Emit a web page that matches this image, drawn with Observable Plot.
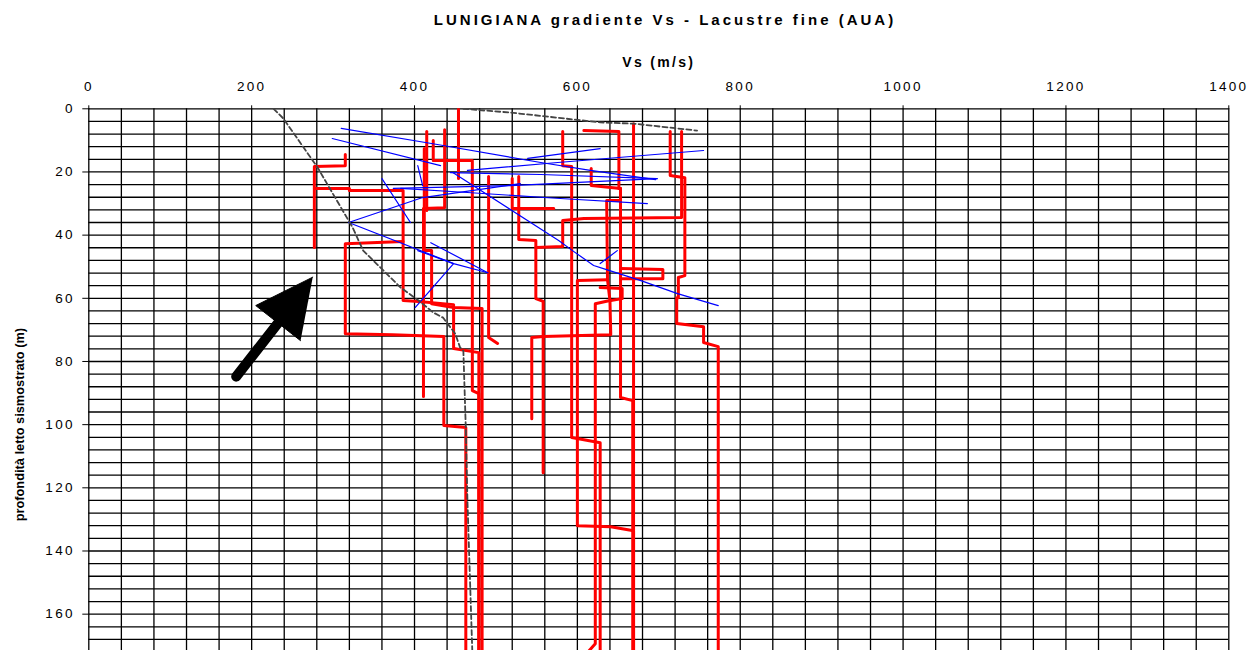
<!DOCTYPE html>
<html>
<head>
<meta charset="utf-8">
<script src="https://cdn.jsdelivr.net/npm/d3@7"></script>
<script src="https://cdn.jsdelivr.net/npm/@observablehq/plot@0.6"></script>
<style>
html, body { margin: 0; padding: 0; overflow: hidden; background: #fff; }
#title { height: 40px; width: 1251px; box-sizing: border-box; padding-left: 79px; text-align: center;
  font: bold 15px "Liberation Sans", Arial, sans-serif; line-height: 40px; letter-spacing: 3px; color: #000; white-space: nowrap; }
#chart svg g[aria-label^="x-axis"] text, #chart svg g[aria-label^="y-axis"] text { letter-spacing: 2.3px; }
</style>
</head>
<body>
<div id="title">LUNIGIANA gradiente Vs - Lacustre fine (AUA)</div>
<div id="chart"></div>
<script>
// ---- tick labels ----
const xTicks = [0, 200, 400, 600, 800, 1000, 1200, 1400];
const yTicks = [0, 20, 40, 60, 80, 100, 120, 140, 160];
const xLabel = "Vs (m/s)";
const yLabel = "profondità letto sismostrato (m)";

// ---- red Vs profiles: [Vs (m/s), depth (m)] ----
const red01 = [[315,14.5],[315,18.0],[277,18.3],[277,43.9]];
const red02 = [[277,25.2],[320,25.2],[320,25.9],[386,25.9],[386,60.7],[405,61.0],[448,62.0],[448,75.9],[479,77.2],[479,172]];
const red03 = [[423,10.0],[423,16.4],[471,16.4],[471,89.2],[479,90.2],[479,172]];
const red04 = [[437,6.6],[437,31.3],[411,31.6],[411,91.1]];
const red05 = [[412,12.6],[412,44.9],[421,44.9],[421,61.7],[448,62.9],[483,63.2],[483,172]];
const red06 = [[415,7.2],[415,32.2]];
const red07 = [[454,0],[454,22.1]];
const red08 = [[520,22.1],[520,31.6],[571,31.6]];
const red09 = [[528,21.4],[528,41.4],[549,41.7],[549,60.1],[558,61.0],[558,115.2]];
const red10 = [[728,7.2],[728,34.4],[608,34.7],[582,35.4],[582,43.6],[549,43.9]];
const red11 = [[640,60.7],[641,71.5],[558,72.1],[544,72.4],[544,98.1]];
const red12 = [[653,25.2],[653,29.0],[636,29.0],[637,54.1],[640,60.7],[622,61.7],[622,169.4],[613,172]];
const red13 = [[637,54.1],[600,54.4],[600,132.0],[641,132.3],[662,133.3],[669,133.6],[669,172]];
const red14 = [[582,7.2],[582,18.0],[593,18.3],[593,104.1],[628,105.7],[628,172]];
const red15 = [[608,6.9],[651,7.2],[651,25.2],[653,25.2],[653,91.4],[668,92.4],[668,172]];
const red16 = [[653,50.6],[705,50.9],[705,53.8],[653,53.8]];
const red17 = [[617,18.9],[617,24.3],[653,25.2]];
const red18 = [[628,56.6],[655,56.9],[655,60.1],[641,60.7]];
const red19 = [[669,4.7],[669,172]];
const red20 = [[714,7.2],[714,21.1],[732,21.8],[732,52.8],[724,53.4],[724,59.8],[722,59.8],[722,68.0],[755,69.0],[755,74.0],[773,75.3],[773,172]];
const red21 = [[386,42.0],[315,42.7],[315,71.2],[373,71.5],[436,72.1],[436,100.3],[463,100.9],[463,172]];
const red22 = [[491,21.4],[491,72.4],[502,74.3]];

// ---- blue gradient lines ----
const blue01 = [[310,6.2],[428,11.3],[555,17.0],[616,19.5],[696,22.4]];
const blue02 = [[299,9.4],[432,18.0]];
const blue03 = [[447,20.2],[577,41.7],[594,44.9],[620,49.6],[632,50.6],[678,54.4],[723,58.5],[773,62.3]];
const blue04 = [[539,15.7],[628,12.6]];
const blue05 = [[465,19.5],[576,17.0],[755,13.2]];
const blue06 = [[444,20.2],[555,20.8],[698,22.1]];
const blue07 = [[374,25.2],[518,24.3],[698,22.1]];
const blue08 = [[383,25.2],[465,26.5],[579,28.4],[686,30.0]];
const blue09 = [[360,22.1],[395,36.0]];
const blue10 = [[319,36.0],[410,28.1],[530,23.7]];
const blue11 = [[319,36.0],[448,49.0],[490,51.9]];
const blue12 = [[420,42.4],[490,51.9]];
const blue13 = [[404,44.9],[448,49.0],[401,62.9]];
const blue14 = [[628,49.0],[649,44.9]];
const blue15 = [[404,18.0],[410,24.3]];

// ---- grey dashed gradient curves ----
const grey01 = [[227,0],[239,3.1],[281,18.6],[324,37.6],[337,44.9],[383,56.6],[405,60.7],[423,64.5],[435,66.1],[450,71.2],[456,75.6],[460,76.6],[463,101.3],[465,124.1],[471,172]];
const grey02 = [[460,0],[518,1.2],[628,4.3],[669,4.7],[747,6.9]];

// ---- black arrow annotation ----
const arrowShaft = [[181,84.8],[240,65.3]];
const arrowHead = [[275,53.3],[205,62.3],[260,73.4]];

// ---- build tables ----
const toRows = (arrs, prefix) => arrs.flatMap((a, i) => a.map(([v, d]) => ({v, d, id: prefix + i})));
const redData = toRows([red01,red02,red03,red04,red05,red06,red07,red08,red09,red10,red11,red12,red13,red14,red15,red16,red17,red18,red19,red20,red21,red22], "r");
const blueData = toRows([blue01,blue02,blue03,blue04,blue05,blue06,blue07,blue08,blue09,blue10,blue11,blue12,blue13,blue14,blue15], "b");
const greyData = toRows([grey01, grey02], "g");
const shaftData = toRows([arrowShaft], "s");
const headData = toRows([arrowHead], "h");
const xGrid = d3.range(0, 1401, 40);
const yGrid = d3.range(0, 201, 4);

const chart = Plot.plot({
  width: 1251,
  height: 720,
  marginTop: 68.3,
  marginLeft: 88.3,
  marginRight: 22.7,
  marginBottom: 20,
  style: {fontFamily: "'Liberation Sans', Arial, sans-serif", fontSize: "13.5px", background: "#fff", color: "#000"},
  x: {domain: [0, 1400], axis: "top", ticks: xTicks, tickSize: 4, tickPadding: 14, tickFormat: d => String(d), label: null},
  y: {domain: [0, 200], reverse: true, ticks: yTicks, tickSize: 6, tickPadding: 8, tickFormat: d => String(d), label: null},
  marks: [
    Plot.ruleX(xGrid, {stroke: "#000", strokeWidth: 1.3}),
    Plot.ruleY(yGrid, {stroke: "#000", strokeWidth: 1.3}),
    Plot.line(redData, {x: "v", y: "d", z: "id", stroke: "#ff0000", strokeWidth: 3, clip: true}),
    Plot.line(blueData, {x: "v", y: "d", z: "id", stroke: "#0000ff", strokeWidth: 1.2, clip: true}),
    Plot.line(greyData, {x: "v", y: "d", z: "id", stroke: "#444", strokeWidth: 1.8, strokeDasharray: "5,3", clip: true}),
    Plot.line(shaftData, {x: "v", y: "d", z: "id", stroke: "#000", strokeWidth: 10}),
    Plot.line(headData, {x: "v", y: "d", z: "id", stroke: "#000", strokeWidth: 1, fill: "#000"}),
    Plot.text([xLabel], {frameAnchor: "top", dy: -46, text: d => d, fontWeight: "bold", fontSize: 14, textAnchor: "middle", lineAnchor: "middle"}),
    Plot.text([yLabel], {frameAnchor: "left", dx: -69, rotate: -90, text: d => d, fontWeight: "bold", fontSize: 12.8, textAnchor: "middle", lineAnchor: "middle"})
  ]
});
d3.select(chart).selectAll("text").filter(function() { return this.textContent === xLabel; }).style("letter-spacing", "2.3px");
document.getElementById("chart").appendChild(chart);
</script>
</body>
</html>
